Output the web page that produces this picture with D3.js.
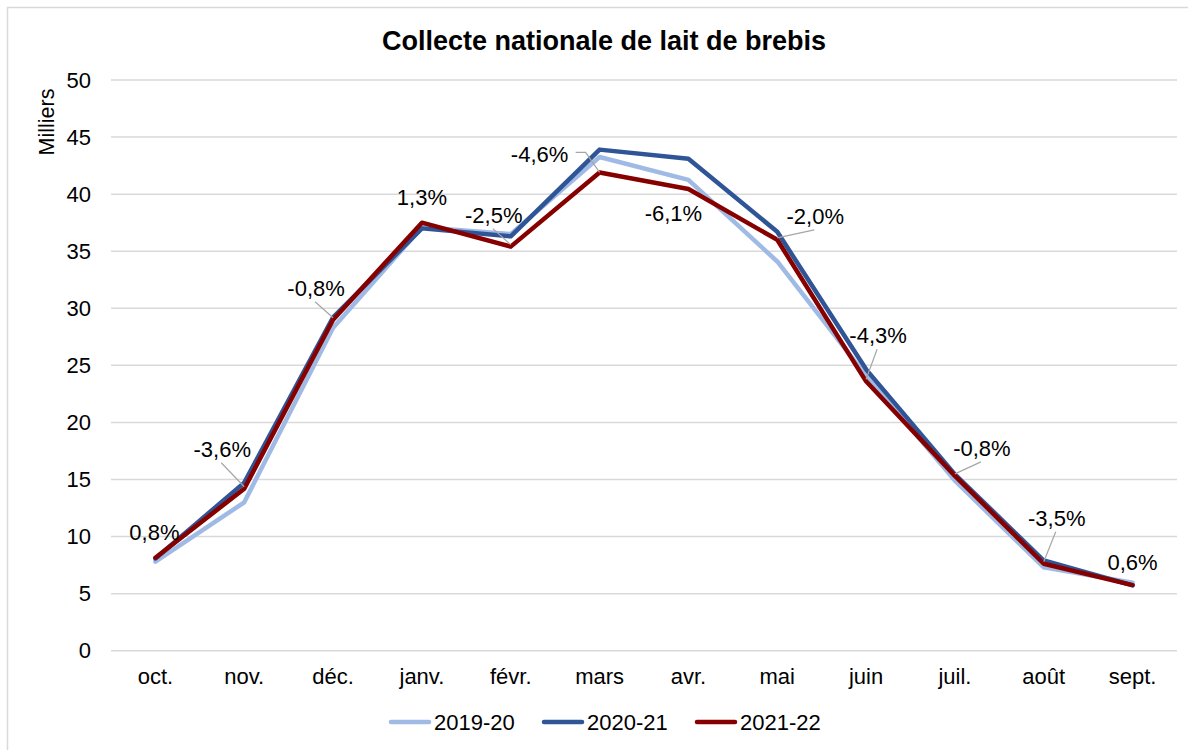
<!DOCTYPE html>
<html lang="fr">
<head>
<meta charset="utf-8">
<script src="https://cdn.jsdelivr.net/npm/d3@7"></script>
<style>
  body { margin: 0; background: #fff; }
  svg { display: block; font-family: "Liberation Sans", Arial, sans-serif; }
</style>
</head>
<body>
<div id="chart"></div>
<script>
// Collecte nationale de lait de brebis - lignes par campagne

const months = ["oct.", "nov.", "déc.", "janv.", "févr.", "mars", "avr.", "mai", "juin", "juil.", "août", "sept."];
const yTicks = [0, 5, 10, 15, 20, 25, 30, 35, 40, 45, 50];

const s2019 = [7.8, 13.0, 28.3, 37.1, 36.5, 43.25, 41.25, 34.1, 24.1, 14.9, 7.3, 5.95];
const s2020 = [8.08, 14.72, 29.2, 37.0, 36.3, 43.9, 43.1, 36.7, 24.65, 15.45, 7.9, 5.72];
const s2021 = [8.15, 14.19, 29.0, 37.5, 35.4, 41.9, 40.45, 36.0, 23.6, 15.32, 7.62, 5.75];

// variation 2021-22 / 2020-21 (étiquettes)
const variation = [0.8, -3.6, -0.8, 1.3, -2.5, -4.6, -6.1, -2.0, -4.3, -0.8, -3.5, 0.6];

const seriesNames = ["2019-20", "2020-21", "2021-22"];
const seriesColors = ["#9fbbe5", "#2f5597", "#870000"];

// placement des étiquettes (décalage du centre du texte par rapport au point) et type de repère
const labelPlace = [
  {dx: -1, dy: -26, leader: null},
  {dx: -22, dy: -40, leader: "below"},
  {dx: -17, dy: -32, leader: "below"},
  {dx: 0, dy: -26, leader: null},
  {dx: -17, dy: -32, leader: "below"},
  {dx: -60, dy: -18, leader: "side"},
  {dx: -15, dy: 24, leader: null},
  {dx: 38, dy: -24, leader: "below"},
  {dx: 12, dy: -46, leader: "below"},
  {dx: 27, dy: -28, leader: "below"},
  {dx: 13, dy: -46, leader: "below"},
  {dx: 0, dy: -23, leader: null}
];

const width = 1188;
const height = 750;
const margin = {top: 80, right: 11, bottom: 99.3, left: 111};

const svg = d3.select("#chart")
    .append("svg")
    .attr("width", width)
    .attr("height", height);

// cadre du graphique
svg.append("rect")
    .attr("x", 7.5)
    .attr("y", 7.5)
    .attr("width", width + 20)
    .attr("height", height + 20)
    .attr("fill", "none")
    .attr("stroke", "#d9d9d9")
    .attr("stroke-width", 1.5);

const xScale = d3.scaleBand()
    .domain(months)
    .range([margin.left, width - margin.right]);

const yScale = d3.scaleLinear()
    .domain([0, 50])
    .range([height - margin.bottom, margin.top]);

const xPos = m => xScale(m) + xScale.bandwidth() / 2;

// quadrillage
svg.append("g")
    .selectAll("line")
    .data(yTicks)
    .join("line")
    .attr("x1", margin.left)
    .attr("x2", width - margin.right)
    .attr("y1", d => yScale(d))
    .attr("y2", d => yScale(d))
    .attr("stroke", "#d9d9d9")
    .attr("stroke-width", 1.5);

const yAxis = svg.append("g")
    .attr("transform", `translate(${margin.left}, 0)`)
    .call(d3.axisLeft(yScale).tickValues(yTicks).tickSize(0).tickPadding(20));
yAxis.select(".domain").remove();
yAxis.selectAll("text")
    .attr("font-size", 22)
    .attr("font-family", "Liberation Sans, Arial, sans-serif")
    .attr("fill", "#000");

const xAxis = svg.append("g")
    .attr("transform", `translate(0, ${height - margin.bottom})`)
    .call(d3.axisBottom(xScale).tickSize(0).tickPadding(18));
xAxis.select(".domain").remove();
xAxis.selectAll("text")
    .attr("font-size", 22)
    .attr("font-family", "Liberation Sans, Arial, sans-serif")
    .attr("fill", "#000");

// titre de l'axe
svg.append("text")
    .attr("transform", `translate(54, 122) rotate(-90)`)
    .attr("text-anchor", "middle")
    .attr("font-size", 21.5)
    .text("Milliers");

// titre
svg.append("text")
    .attr("x", 604)
    .attr("y", 50)
    .attr("text-anchor", "middle")
    .attr("font-size", 27)
    .attr("font-weight", "bold")
    .text("Collecte nationale de lait de brebis");

// lignes
const line = d3.line()
    .x((d, i) => xPos(months[i]))
    .y(d => yScale(d));

[s2019, s2020, s2021].forEach((s, k) => {
    svg.append("path")
        .datum(s)
        .attr("fill", "none")
        .attr("stroke", seriesColors[k])
        .attr("stroke-width", 4.5)
        .attr("stroke-linejoin", "round")
        .attr("stroke-linecap", "round")
        .attr("d", line);
});

// étiquettes de variation
const fmt = v => d3.format(".1f")(v).replace(".", ",").replace("−", "-") + "%";

const labels = svg.append("g");
variation.forEach((v, i) => {
    const px = xPos(months[i]);
    const py = yScale(s2021[i]);
    const p = labelPlace[i];
    const cx = px + p.dx;
    const cy = py + p.dy;

    if (p.leader === "below") {
        labels.append("line")
            .attr("x1", cx - 1)
            .attr("y1", cy + 14)
            .attr("x2", px)
            .attr("y2", py - 2)
            .attr("stroke", "#a6a6a6")
            .attr("stroke-width", 1.2);
    } else if (p.leader === "side") {
        labels.append("polyline")
            .attr("points", `${cx + 36},${cy - 2} ${cx + 46},${cy - 2} ${px},${py}`)
            .attr("fill", "none")
            .attr("stroke", "#a6a6a6")
            .attr("stroke-width", 1.2);
    }

    labels.append("text")
        .attr("x", cx)
        .attr("y", cy + 8)
        .attr("text-anchor", "middle")
        .attr("font-size", 22)
        .attr("fill", "#000")
        .text(fmt(v));
});

// légende
const legendCenter = 606;
const itemStep = 153;
const legendStart = legendCenter - (itemStep * 3 - 25) / 2;
const legend = svg.append("g");
seriesNames.forEach((name, k) => {
    const x0 = legendStart + k * itemStep;
    legend.append("line")
        .attr("x1", x0 + 2)
        .attr("x2", x0 + 40)
        .attr("y1", 722)
        .attr("y2", 722)
        .attr("stroke", seriesColors[k])
        .attr("stroke-width", 4.5)
        .attr("stroke-linecap", "round");
    legend.append("text")
        .attr("x", x0 + 45)
        .attr("y", 730)
        .attr("font-size", 22)
        .attr("fill", "#000")
        .text(name);
});
</script>
</body>
</html>
